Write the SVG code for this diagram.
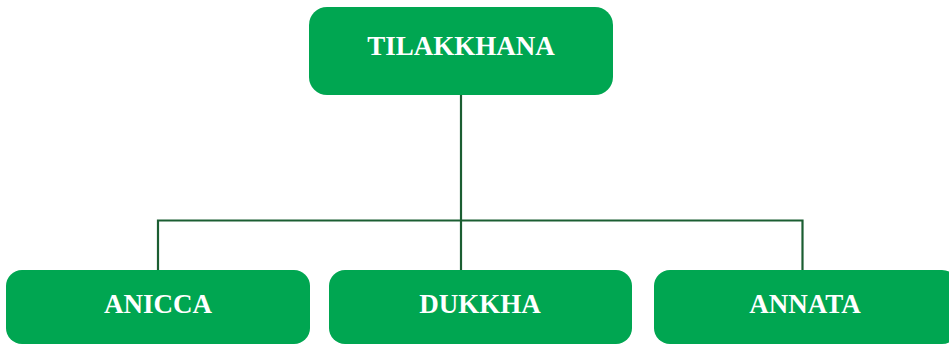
<svg xmlns="http://www.w3.org/2000/svg" width="949" height="345" viewBox="0 0 949 345">
<style>
.box{fill:#00a651;}
.lbl{font-family:"Liberation Serif","Times New Roman",serif;font-weight:bold;font-size:27px;fill:#ffffff;text-anchor:middle;}
.conn{fill:none;stroke:#1b5e32;stroke-width:2.2;}
</style>
<rect width="949" height="345" fill="#ffffff"/>
<g id="connectors">
<path class="conn" d="M461 95 V270"/>
<path class="conn" d="M158 270 V220.5 H802.5 V270"/>
</g>
<g id="tilakkhana">
<rect class="box" x="309" y="7" width="304" height="88" rx="18"/>
<text class="lbl" x="461" y="55">TILAKKHANA</text>
</g>
<g id="anicca">
<rect class="box" x="6" y="270" width="304" height="74" rx="16"/>
<text class="lbl" x="158" y="313">ANICCA</text>
</g>
<g id="dukkha">
<rect class="box" x="329" y="270" width="303" height="74" rx="16"/>
<text class="lbl" x="480" y="313">DUKKHA</text>
</g>
<g id="annata">
<rect class="box" x="654" y="270" width="304" height="74" rx="16"/>
<text class="lbl" x="805" y="313">ANNATA</text>
</g>
</svg>
